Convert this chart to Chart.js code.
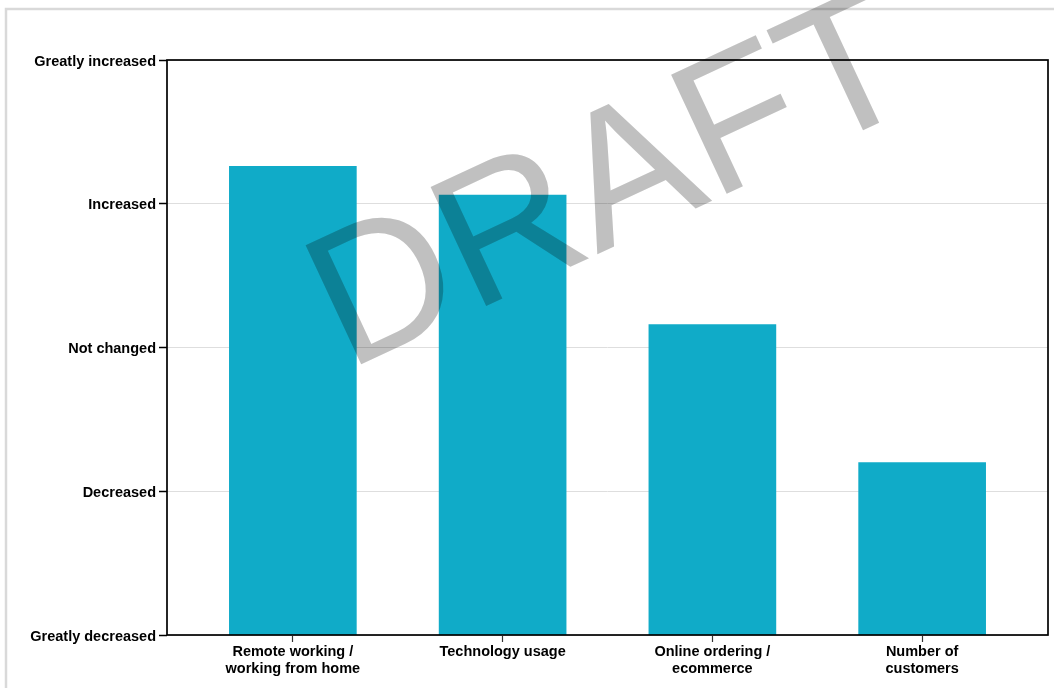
<!DOCTYPE html>
<html>
<head>
<meta charset="utf-8">
<script src="https://cdn.jsdelivr.net/npm/chart.js@4"></script>
<style>
    html, body { margin: 0; padding: 0; background: #fff; }
    #wrap { position: relative; width: 1054px; height: 688px; }
</style>
</head>
<body>
<div id="wrap"><canvas id="chart-impact"></canvas></div>
<script>
const categories = [
    ['Remote working /', 'working from home'],
    ['Technology usage'],
    ['Online ordering /', 'ecommerce'],
    ['Number of', 'customers'],
];
const impactValues = [4.26, 4.06, 3.16, 2.20];
const yLabels = ['Greatly decreased', 'Decreased', 'Not changed', 'Increased', 'Greatly increased'];

Chart.defaults.font.family = '"Liberation Sans", Arial, sans-serif';
Chart.defaults.font.size = 14.5;
Chart.defaults.font.weight = 'bold';
Chart.defaults.color = '#000';

// white page + light grey frame
const pageFrame = {
    id: 'pageFrame',
    beforeDraw(chart) {
        const ctx = chart.ctx;
        ctx.save();
        ctx.fillStyle = '#fff';
        ctx.fillRect(0, 0, chart.width, chart.height);
        ctx.strokeStyle = '#d9d9d9';
        ctx.lineWidth = 2.5;
        ctx.strokeRect(6, 9, 3000, 3000);
        ctx.restore();
    }
};

// black box around the plot
const plotBox = {
    id: 'plotBox',
    afterDatasetsDraw(chart) {
        const {ctx, chartArea: a} = chart;
        ctx.save();
        ctx.strokeStyle = '#000';
        ctx.lineWidth = 1.7;
        ctx.strokeRect(a.left, a.top, a.right - a.left, a.bottom - a.top);
        ctx.restore();
    }
};

const draftMark = {
    id: 'draftMark',
    afterDraw(chart) {
        const ctx = chart.ctx;
        ctx.save();
        ctx.globalCompositeOperation = 'multiply';
        ctx.fillStyle = '#c0c0c0';
        ctx.font = 'normal 191px "Liberation Sans", Arial, sans-serif';
        ctx.textAlign = 'left';
        ctx.textBaseline = 'alphabetic';
        ctx.translate(347, 371);
        ctx.rotate(-25 * Math.PI / 180);
        ctx.fillText('DRAFT', 0, 0);
        ctx.restore();
    }
};

let chartImpact = new Chart(document.getElementById('chart-impact'), {
    type: 'bar',
    data: {
        datasets: [{
            label: ' ',
            data: impactValues.map((v, i) => ({x: i, y: v})),
            backgroundColor: '#10abc8',
            borderWidth: 0,
            barThickness: 127
        }]
    },
    options: {
        responsive: true,
        maintainAspectRatio: false,
        animation: false,
        layout: {padding: {left: 0, top: 60, right: 6, bottom: 0}},
        plugins: {legend: {display: false}, tooltip: {enabled: false}},
        scales: {
            x: {
                type: 'linear',
                min: -0.6,
                max: 3.6,
                offset: false,
                afterBuildTicks: s => { s.ticks = categories.map((c, i) => ({value: i})); },
                afterFit: s => { s.height = 53; },
                border: {display: false},
                grid: {offset: false, drawOnChartArea: false, tickLength: 7, tickColor: '#333', tickWidth: 1.2},
                ticks: {
                    autoSkip: false,
                    maxRotation: 0,
                    padding: 1,
                    font: {lineHeight: 1.2},
                    callback: v => categories[v]
                }
            },
            y: {
                min: 1,
                max: 5,
                afterFit: s => { s.width = 167; },
                border: {display: false},
                grid: {color: '#dedede', lineWidth: 1, tickLength: 8, tickColor: '#000', tickWidth: 1.5},
                ticks: {
                    stepSize: 1,
                    padding: 3,
                    labelOffset: 1.5,
                    callback: v => yLabels[v - 1]
                }
            }
        }
    },
    plugins: [pageFrame, plotBox, draftMark]
});
</script>
</body>
</html>
